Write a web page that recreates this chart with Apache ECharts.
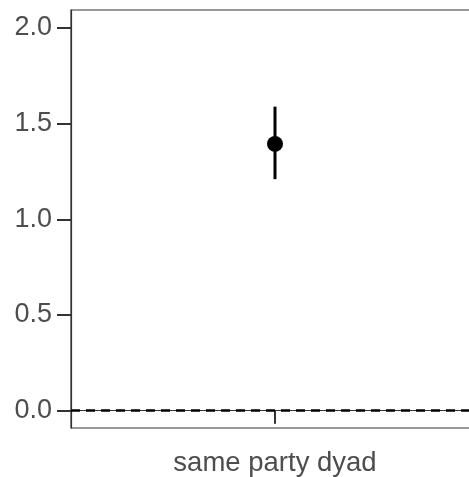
<!DOCTYPE html>
<html>
<head>
<meta charset="utf-8">
<script src="https://cdn.jsdelivr.net/npm/echarts@6/dist/echarts.min.js"></script>
<style>
  html, body { margin: 0; padding: 0; background: #fff; overflow: hidden; }
  /* panel runs past the right edge of the picture, as in the reference */
  #main { width: 480px; height: 477px; }
</style>
</head>
<body>
<div id="main"></div>
<script>
// data
const categories = ['same party dyad'];
const estimates = [1.394];
const lower = [1.210];
const upper = [1.589];
const yTicks = [0, 0.5, 1.0, 1.5, 2.0];
const refLine = 0;

const textColor = '#4d4d4d';
const axisColor = '#333333';

let option = {
  animation: false,
  grid: {
    left: 71,
    top: 10,
    right: 1,
    bottom: 49,
    show: true,
    borderColor: axisColor,
    borderWidth: 1.2,
    backgroundColor: '#fff'
  },
  xAxis: {
    type: 'category',
    data: categories,
    axisLine: { show: true, lineStyle: { color: axisColor, width: 1.2 } },
    axisTick: { show: true, alignWithLabel: true, length: 13, lineStyle: { color: axisColor, width: 2 } },
    axisLabel: {
      margin: 21,
      fontSize: 27.5,
      fontFamily: 'Liberation Sans, Arial, sans-serif',
      color: textColor
    },
    splitLine: { show: false }
  },
  yAxis: {
    type: 'value',
    min: -0.0904,
    max: 2.094,
    axisLine: { show: true, lineStyle: { color: axisColor, width: 1.2 } },
    axisTick: { show: true, length: 14, customValues: yTicks, lineStyle: { color: axisColor, width: 2 } },
    axisLabel: {
      margin: 19,
      fontSize: 27,
      fontFamily: 'Liberation Sans, Arial, sans-serif',
      color: textColor,
      customValues: yTicks,
      formatter: v => v.toFixed(1)
    },
    splitLine: { show: false }
  },
  series: [
    {
      type: 'custom',
      data: categories.map((c, i) => [i, lower[i], upper[i]]),
      renderItem: function (params, api) {
        const top = api.coord([api.value(0), api.value(2)]);
        const bot = api.coord([api.value(0), api.value(1)]);
        return {
          type: 'line',
          shape: { x1: top[0], y1: top[1], x2: bot[0], y2: bot[1] },
          style: { stroke: '#000', lineWidth: 3 }
        };
      },
      markLine: {
        silent: true,
        symbol: 'none',
        label: { show: false },
        lineStyle: { color: '#000', type: [9, 6], width: 2.6, opacity: 1 },
        data: [{ yAxis: refLine }]
      },
      z: 2
    },
    {
      type: 'scatter',
      data: categories.map((c, i) => [i, estimates[i]]),
      symbol: 'circle',
      symbolSize: 16,
      itemStyle: { color: '#000', opacity: 1 },
      z: 3
    }
  ]
};

let myChart = echarts.init(document.getElementById('main'));
myChart.setOption(option);
</script>
</body>
</html>
